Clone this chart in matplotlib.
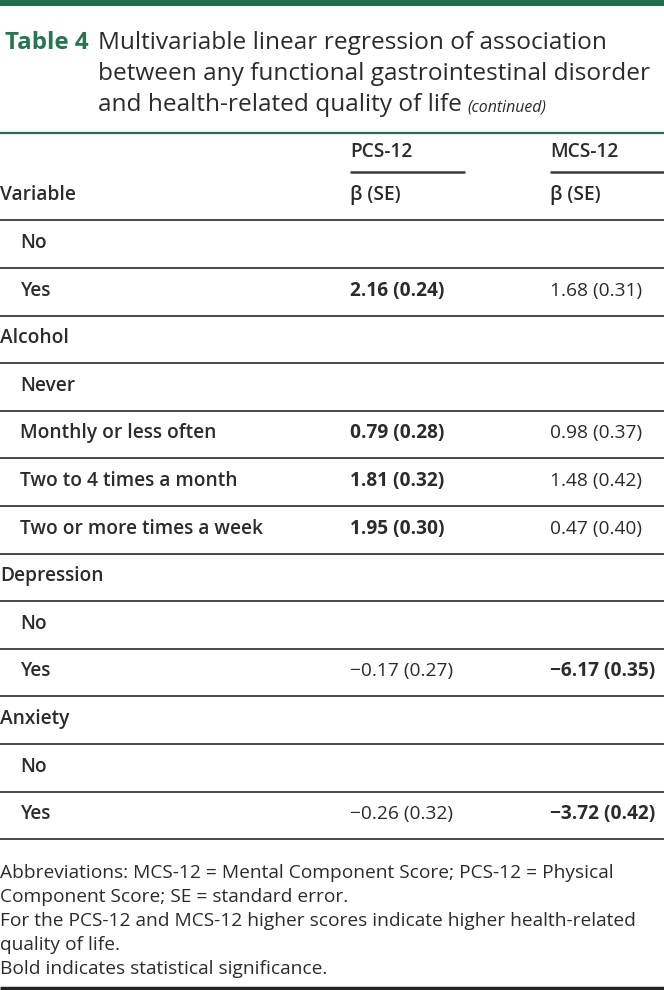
import matplotlib
matplotlib.use("Agg")
import matplotlib.pyplot as plt

plt.rcParams['font.family'] = ['Open Sans', 'DejaVu Sans']

# ---- data ----
title_lines = ["Multivariable linear regression of association",
               "between any functional gastrointestinal disorder",
               "and health-related quality of life"]
col_headers = ["PCS-12", "MCS-12"]
sub_headers = ["Variable", "β (SE)", "β (SE)"]
row_labels = ["No", "Yes", "Alcohol", "Never", "Monthly or less often",
              "Two to 4 times a month", "Two or more times a week",
              "Depression", "No", "Yes", "Anxiety", "No", "Yes"]
row_indent = [1, 1, 0, 1, 1, 1, 1, 0, 1, 1, 0, 1, 1]
pcs_values = ["", "2.16 (0.24)", "", "", "0.79 (0.28)", "1.81 (0.32)",
              "1.95 (0.30)", "", "", "−0.17 (0.27)", "", "", "−0.26 (0.32)"]
pcs_bold = [0, 1, 0, 0, 1, 1, 1, 0, 0, 0, 0, 0, 0]
mcs_values = ["", "1.68 (0.31)", "", "", "0.98 (0.37)", "1.48 (0.42)",
              "0.47 (0.40)", "", "", "−6.17 (0.35)", "", "", "−3.72 (0.42)"]
mcs_bold = [0, 0, 0, 0, 0, 0, 0, 0, 0, 1, 0, 0, 1]
footnotes = ["Abbreviations: MCS-12 = Mental Component Score; PCS-12 = Physical",
             "Component Score; SE = standard error.",
             "For the PCS-12 and MCS-12 higher scores indicate higher health-related",
             "quality of life.",
             "Bold indicates statistical significance."]

# ---- layout ----
W, H = 664, 990
fig = plt.figure(figsize=(W / 100, H / 100), dpi=100)
ax = fig.add_axes([0, 0, 1, 1])
ax.set_xlim(0, W)
ax.set_ylim(H, 0)
ax.axis('off')

green = '#1e6e4c'
dark = '#2b2b2b'
linec = '#3a3a3a'
fs = 13.8

# top bar
ax.axhspan(0, 6, color=green, lw=0)

# title
ax.text(5, 43, "Table 4", fontsize=17.4, fontweight='bold', color='#27764f',
        va='center', ha='left')
for i, t in enumerate(title_lines):
    ax.text(98, 43 + 31 * i, t, fontsize=17.6, color=dark, va='center', ha='left')
t3 = ax.texts[-1]
fig.canvas.draw()
bb = t3.get_window_extent()
xend = ax.transData.inverted().transform((bb.x1, bb.y0))[0]
ax.text(xend + 6, 107, "(continued)", fontsize=11.4, style='italic', color=dark,
        va='center', ha='left')

# green line below title
ax.hlines(133, 0, W, color='#2d6e52', lw=1.6)

# column headers
col_x = [350, 550]
for cx, h, xe in zip(col_x, col_headers, [465, W]):
    ax.text(cx, 152, h, fontsize=fs, fontweight='semibold', color=dark,
            va='center', ha='left')
    ax.hlines(172, cx, xe, color=linec, lw=1.8)
ax.text(0, 195, sub_headers[0], fontsize=fs, fontweight='semibold', color=dark,
        va='center', ha='left')
for cx, h in zip(col_x, sub_headers[1:]):
    ax.text(cx, 195, h, fontsize=fs, fontweight='semibold', color=dark,
            va='center', ha='left')
ax.hlines(220, 0, W, color=linec, lw=1.3)

# rows
row_h = 47.6
y0 = 243
for i, lab in enumerate(row_labels):
    yc = y0 + row_h * i
    ax.text(20 if row_indent[i] else 0, yc, lab, fontsize=fs,
            fontweight='semibold', color=dark, va='center', ha='left')
    if pcs_values[i]:
        ax.text(col_x[0], yc, pcs_values[i], fontsize=fs,
                fontweight='bold' if pcs_bold[i] else 'normal',
                color=dark, va='center', ha='left')
    if mcs_values[i]:
        ax.text(col_x[1], yc, mcs_values[i], fontsize=fs,
                fontweight='bold' if mcs_bold[i] else 'normal',
                color=dark, va='center', ha='left')
    ax.hlines(y0 + row_h * i + 25, 0, W, color=linec, lw=1.3)

# footnotes
for i, f in enumerate(footnotes):
    ax.text(0, 873 + 24 * i, f, fontsize=fs, color=dark, va='center', ha='left')

ax.hlines(988, 0, W, color='#222222', lw=2.5)

fig.savefig('out.png', dpi=100)
